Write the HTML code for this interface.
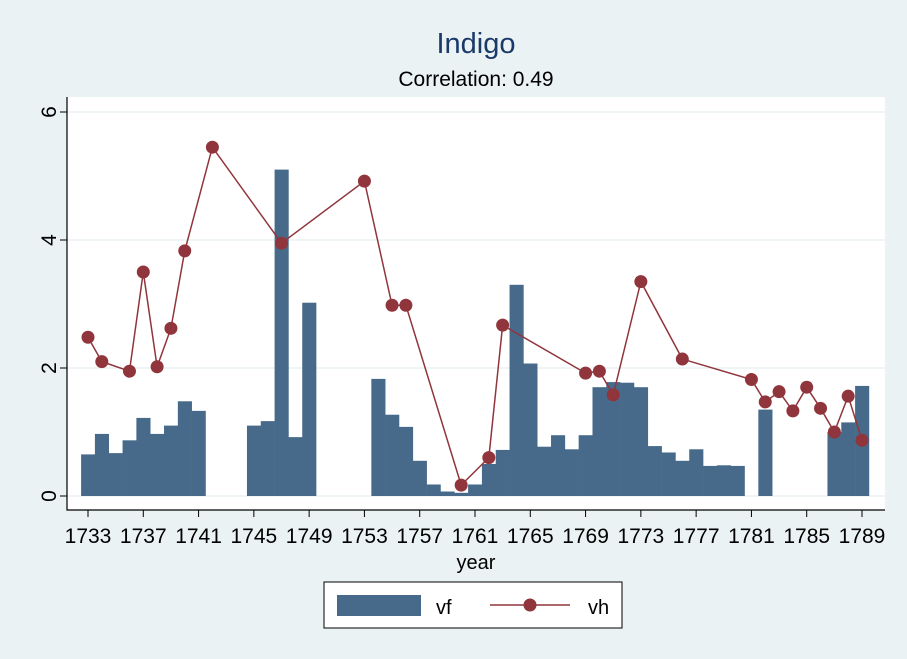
<!DOCTYPE html>
<html><head><meta charset="utf-8"><style>
body{margin:0;background:#eaf2f3;}
svg{display:block;font-family:"Liberation Sans",sans-serif;}
</style></head><body>
<svg id="chart" width="907" height="659" viewBox="0 0 907 659" xmlns="http://www.w3.org/2000/svg">
<rect x="0" y="0" width="907" height="659" fill="#eaf2f3"/>
<rect x="67" y="97" width="818" height="413" fill="#ffffff"/>
<text x="476" y="53" font-size="29" fill="#1a3a6a" text-anchor="middle">Indigo</text>
<text x="476" y="86" font-size="21" fill="#000" text-anchor="middle">Correlation: 0.49</text>
<g id="grid"></g><g id="bars"></g><g id="line"></g><g id="axes"></g>
<g>
<rect x="324" y="582" width="298" height="46" fill="#fff" stroke="#000" stroke-width="1"/>
<rect x="337" y="595" width="84" height="21" fill="#486a8a"/>
<text x="436" y="614" font-size="20">vf</text>
<line x1="490" y1="605" x2="570" y2="605" stroke="#90353b" stroke-width="1.5"/>
<circle cx="530" cy="605" r="6.5" fill="#90353b"/>
<text x="588" y="614" font-size="20">vh</text>
</g>
</svg>
<script>
const barYears=[1733,1734,1735,1736,1737,1738,1739,1740,1741,1745,1746,1747,1748,1749,1754,1755,1756,1757,1758,1759,1760,1761,1762,1763,1764,1765,1766,1767,1768,1769,1770,1771,1772,1773,1774,1775,1776,1777,1778,1779,1780,1782,1787,1788,1789];
const vfValues=[0.65,0.97,0.67,0.87,1.22,0.97,1.1,1.48,1.33,1.1,1.17,5.1,0.92,3.02,1.83,1.27,1.08,0.55,0.18,0.07,0.05,0.18,0.5,0.72,3.3,2.07,0.77,0.95,0.73,0.95,1.7,1.78,1.77,1.7,0.78,0.68,0.55,0.73,0.47,0.48,0.47,1.35,1.0,1.15,1.72];
const lineYears=[1733,1734,1736,1737,1738,1739,1740,1742,1747,1753,1755,1756,1760,1762,1763,1769,1770,1771,1773,1776,1781,1782,1783,1784,1785,1786,1787,1788,1789];
const vhValues=[2.48,2.1,1.95,3.5,2.02,2.62,3.83,5.45,3.95,4.92,2.98,2.98,0.17,0.6,2.67,1.92,1.95,1.58,3.35,2.14,1.82,1.47,1.63,1.33,1.7,1.37,1.0,1.56,0.87];
const yTicks=[0,2,4,6];
const xTicks=[1733,1737,1741,1745,1749,1753,1757,1761,1765,1769,1773,1777,1781,1785,1789];
const NS="http://www.w3.org/2000/svg";
const xs=v=>88+(v-1733)*(862-88)/56;
const ys=v=>496-v*64;
const bw=(862-88)/56;
function mk(t,a,p){const e=document.createElementNS(NS,t);for(const k in a)e.setAttribute(k,a[k]);p.appendChild(e);return e;}
const grid=document.getElementById('grid'),bars=document.getElementById('bars'),line=document.getElementById('line'),axes=document.getElementById('axes');
yTicks.forEach(t=>{const g=mk('line',{x1:67,x2:885,y1:ys(t),y2:ys(t),stroke:'#eaf2f3','stroke-width':1.5},grid);

});
barYears.forEach((y,i)=>{const r=mk('rect',{x:xs(y)-bw/2,y:ys(vfValues[i]),width:bw+0.3,height:vfValues[i]*64,fill:'#486a8a'},bars);

});
const pl=mk('polyline',{points:lineYears.map((y,i)=>xs(y)+','+ys(vhValues[i])).join(' '),fill:'none',stroke:'#90353b','stroke-width':1.5},line);


lineYears.forEach((y,i)=>{const c=mk('circle',{cx:xs(y),cy:ys(vhValues[i]),r:6.5,fill:'#90353b'},line);

});
const ax=mk('line',{x1:67,x2:67,y1:97,y2:510.5,stroke:'#000','stroke-width':1.2},axes);


const bx=mk('line',{x1:66.5,x2:885,y1:510,y2:510,stroke:'#000','stroke-width':1.2},axes);


yTicks.forEach(t=>{mk('line',{x1:60,x2:67,y1:ys(t),y2:ys(t),stroke:'#000'},axes);
const tx=mk('text',{x:0,y:0,'font-size':21,'text-anchor':'middle',transform:`translate(56,${ys(t)}) rotate(-90)`},axes);tx.textContent=t;

});
xTicks.forEach(t=>{mk('line',{x1:xs(t),x2:xs(t),y1:510,y2:517,stroke:'#000'},axes);
const tx=mk('text',{x:xs(t),y:543,'font-size':21,'text-anchor':'middle'},axes);tx.textContent=t;

});
const xt=mk('text',{x:476,y:569,'font-size':20,'text-anchor':'middle'},axes);xt.textContent='year';


</script>
</body></html>
